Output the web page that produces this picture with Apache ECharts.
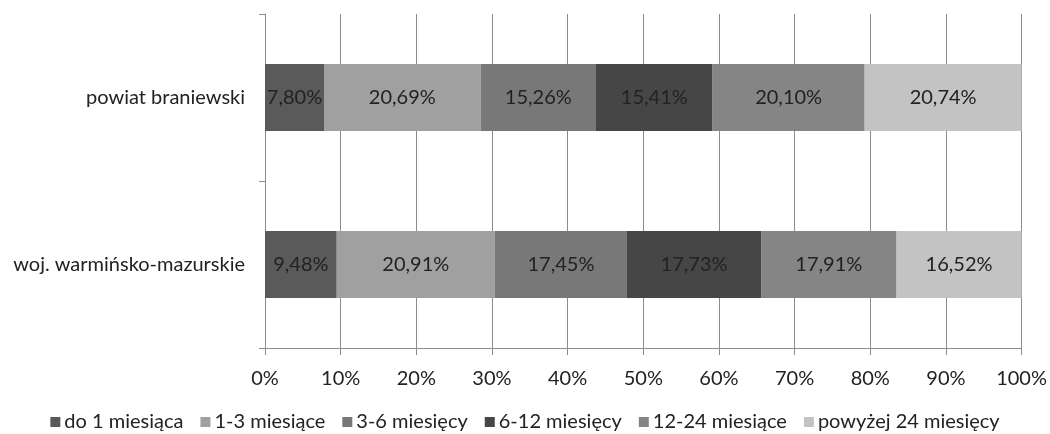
<!DOCTYPE html>
<html>
<head>
<meta charset="utf-8">
<script src="https://cdn.jsdelivr.net/npm/echarts@6/dist/echarts.min.js"></script>
<style>
html,body{margin:0;padding:0;background:#fff;}
#c{width:1050px;height:434px;}
</style>
</head>
<body>
<div id="c"></div>
<script>
const categories = ['powiat braniewski', 'woj. warmińsko-mazurskie'];
const seriesNames = ['do 1 miesiąca', '1-3 miesiące', '3-6 miesięcy', '6-12 miesięcy', '12-24 miesiące', 'powyżej 24 miesięcy'];
const do1 = [7.80, 9.48];
const m1_3 = [20.69, 20.91];
const m3_6 = [15.26, 17.45];
const m6_12 = [15.41, 17.73];
const m12_24 = [20.10, 17.91];
const pow24 = [20.74, 16.52];
const xTicks = [0, 10, 20, 30, 40, 50, 60, 70, 80, 90, 100];

const seriesData = [do1, m1_3, m3_6, m6_12, m12_24, pow24];
const colors = ['#5a5a5a', '#a0a0a0', '#787878', '#464646', '#858585', '#c3c3c3'];
const FONT = 'Lato';
const FS = 20;

const chart = echarts.init(document.getElementById('c'), null, {renderer: 'canvas'});
chart.setOption({
  animation: false,
  color: colors,
  textStyle: {fontFamily: FONT},
  grid: {left: 265, right: 28, top: 14, bottom: 86, containLabel: false},
  legend: {
    bottom: 2,
    left: 'center',
    padding: [0, 5],
    itemWidth: 10,
    itemHeight: 10,
    itemGap: 17,
    icon: 'rect',
    textStyle: {fontFamily: FONT, fontSize: FS, color: '#222', padding: [0, 0, 0, -1]},
    data: seriesNames
  },
  xAxis: {
    type: 'value',
    min: xTicks[0],
    max: xTicks[xTicks.length - 1],
    interval: 10,
    axisLine: {show: true, lineStyle: {color: '#8c8c8c', width: 1}},
    axisTick: {show: true, length: 7, lineStyle: {color: '#8c8c8c'}},
    splitLine: {show: true, lineStyle: {color: '#8c8c8c', width: 1}},
    axisLabel: {formatter: '{value}%', color: '#222', fontSize: FS, fontFamily: FONT, margin: 21}
  },
  yAxis: {
    type: 'category',
    inverse: true,
    data: categories,
    axisLine: {show: true, lineStyle: {color: '#8c8c8c', width: 1}},
    axisTick: {show: true, length: 6, lineStyle: {color: '#8c8c8c'}},
    axisLabel: {color: '#222', fontSize: FS, fontFamily: FONT, margin: 20}
  },
  series: seriesNames.map((name, i) => ({
    name: name,
    type: 'bar',
    stack: 'total',
    barWidth: '40%',
    data: seriesData[i],
    itemStyle: {color: colors[i]},
    label: {
      show: true,
      position: 'inside',
      color: '#222',
      fontSize: FS,
      fontFamily: FONT,
      formatter: p => p.value.toFixed(2).replace('.', ',') + '%'
    }
  }))
});
</script>
</body>
</html>
